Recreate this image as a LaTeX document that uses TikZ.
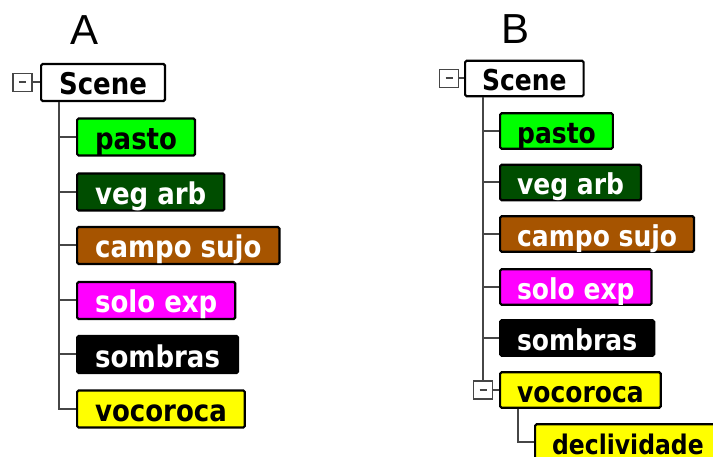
\documentclass[tikz,border=0pt]{standalone}
\usepackage{fontspec}
\setmainfont{DejaVu Sans}
\newfontfamily\letterfont{Liberation Sans}

\definecolor{grassgreen}{RGB}{0,255,0}
\definecolor{treegreen}{RGB}{0,77,0}
\definecolor{brushbrown}{RGB}{166,84,0}
\definecolor{soilpink}{RGB}{255,0,255}
\definecolor{gullyyellow}{RGB}{255,255,0}
\definecolor{linegray}{RGB}{70,70,70}

\newcommand\tall[1]{\scalebox{1}[1.15]{#1}}

\begin{document}

\begin{tikzpicture}[x = 1pt, y = -1pt,
	leaf/.style = {draw = black, line width = 2.2pt, rounded corners = 1.5pt, anchor = west,
		inner xsep = 18pt, inner ysep = 0pt, text height = 31pt, text depth = 6pt,
		font = \fontsize{26}{30}\selectfont\bfseries},
	light/.style = {leaf, text = black},
	dark/.style = {leaf, text = white},
	minus/.style = {draw = linegray, line width = 1.6pt, fill = white, inner sep = 0pt,
		minimum width = 19pt, minimum height = 18pt},
	branch/.style = {draw = linegray, line width = 2pt},
	panel/.style = {font = \letterfont\fontsize{42}{44}\selectfont, anchor = base}]

	% Definitions

	\def\M{\textcolor{linegray}{\rule[-1pt]{7pt}{2pt}}}	% minus sign of a fold box

	\useasboundingbox (0, 0) rectangle (713, 457);

	% Panel A

	\node [panel] (titleA) at (85, 45) {A};

	\node [light, fill = white] (sceneA) at (40, 82.5) {\tall{Scene}};
	\node [minus] (minusA) at (22.5, 82.5) {\M};

	\node [light, fill = grassgreen] (pastoA) at (76, 137) {\tall{pasto}};
	\node [dark, fill = treegreen] (vegA) at (76, 192) {\tall{veg arb}};
	\node [dark, fill = brushbrown] (campoA) at (76, 245.5) {\tall{campo sujo}};
	\node [dark, fill = soilpink] (soloA) at (76, 300.5) {\tall{solo exp}};
	\node [dark, fill = black] (sombrasA) at (76, 354.5) {\tall{sombras}};
	\node [light, fill = gullyyellow] (vocorocaA) at (76, 409) {\tall{vocoroca}};

	\coordinate (trunkA) at ([xshift = 19pt] sceneA.south west);

	\draw [branch] (minusA) -- (sceneA);
	\draw [branch] (trunkA) |- (vocorocaA.west);
	\foreach \n in {pastoA, vegA, campoA, soloA, sombrasA}
		\draw [branch] (trunkA |- \n.west) -- (\n.west);

	% Panel B

	\begin{scope}[leaf/.append style = {text height = 30pt, text depth = 5.5pt,
			inner xsep = 17pt, font = \fontsize{25}{29}\selectfont\bfseries}]

		\node [panel] (titleB) at (516, 44) {B};

		\node [light, fill = white] (sceneB) at (464, 78.5) {\tall{Scene}};
		\node [minus] (minusB) at (449, 78.5) {\M};

		\node [light, fill = grassgreen] (pastoB) at (499, 131) {\tall{pasto}};
		\node [dark, fill = treegreen] (vegB) at (499, 182.5) {\tall{veg arb}};
		\node [dark, fill = brushbrown] (campoB) at (499, 234) {\tall{campo sujo}};
		\node [dark, fill = soilpink] (soloB) at (499, 287) {\tall{solo exp}};
		\node [dark, fill = black] (sombrasB) at (499, 338) {\tall{sombras}};
		\node [light, fill = gullyyellow] (vocorocaB) at (499, 390) {\tall{vocoroca}};
		\node [light, fill = gullyyellow, font = \fontsize{23.5}{28}\selectfont\bfseries]
			(declivB) at (534, 442) {\tall{declividade}};

		\coordinate (trunkB) at ([xshift = 19pt] sceneB.south west);
		\coordinate (stemB) at ([xshift = 19pt] vocorocaB.south west);
		\node [minus] (minusVB) at (trunkB |- vocorocaB.west) {\M};

		\draw [branch] (minusB) -- (sceneB);
		\draw [branch] (trunkB) -- (minusVB.north);
		\draw [branch] (minusVB) -- (vocorocaB);
		\foreach \n in {pastoB, vegB, campoB, soloB, sombrasB}
			\draw [branch] (trunkB |- \n.west) -- (\n.west);
		\draw [branch] (stemB) |- (declivB.west);

	\end{scope}

\end{tikzpicture}

\end{document}
